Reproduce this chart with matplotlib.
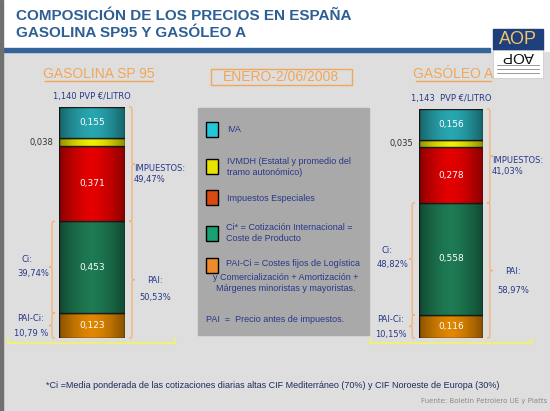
import numpy as np
import matplotlib.pyplot as plt
from matplotlib.patches import Rectangle, PathPatch
from matplotlib.path import Path
import matplotlib.transforms as mtransforms

# datos
productos = ["GASOLINA SP 95", "GASÓLEO A"]
pvp = [1.140, 1.143]
pvp_txt = ["1,140 PVP €/LITRO", "1,143  PVP €/LITRO"]
iva = [0.155, 0.156]
ivmdh = [0.038, 0.035]
especiales = [0.371, 0.278]
ci = [0.453, 0.558]
pai_ci = [0.123, 0.116]
impuestos_pct = ["49,47%", "41,03%"]
pai_pct = ["50,53%", "58,97%"]
ci_pct = ["39,74%", "48,82%"]
paici_pct = ["10,79 %", "10,15%"]

NAVY = "#27388a"
ORANGE = "#f2a65a"
BRACE = "#f4b27a"
SANS = ["Liberation Sans", "DejaVu Sans"]
NARROW = ["Liberation Sans Narrow", "Liberation Sans", "DejaVu Sans"]

fig = plt.figure(figsize=(5.5, 4.11), dpi=100)
bg = fig.add_axes([0, 0, 1, 1])
bg.set_xlim(0, 550)
bg.set_ylim(411, 0)
bg.axis("off")

# fondo
bg.add_patch(Rectangle((0, 0), 550, 52, color="white", zorder=0))
bg.add_patch(Rectangle((0, 52), 550, 359, color="#dedede", zorder=0))
bg.add_patch(Rectangle((0, 48), 490, 4, color="#34649a", zorder=1))
bg.add_patch(Rectangle((0, 0), 3, 411, color="#707070", zorder=1))

bg.text(16, 16, "COMPOSICIÓN DE LOS PRECIOS EN ESPAÑA", family=SANS, weight="bold",
        fontsize=11, color="#2e5f94", va="center")
bg.text(16, 33, "GASOLINA SP95 Y GASÓLEO A", family=SANS, weight="bold",
        fontsize=11, color="#2e5f94", va="center")

# logo
bg.add_patch(Rectangle((493, 29), 50, 21, color="#1d3f7c", zorder=2))
bg.add_patch(Rectangle((493, 50), 50, 28, facecolor="white", edgecolor="#c8c8c8", lw=0.5, zorder=2))
bg.text(518, 40, "AOP", family=SANS, fontsize=13, color="#f2c46a", ha="center", va="center", zorder=3)
bg.text(518, 56, "AOP", family=SANS, fontsize=11, color="#111111", ha="center", va="center",
        rotation=180, zorder=3)
for yy in (65, 69, 73):
    bg.plot([497, 539], [yy, yy], color="#8a8a8a", lw=0.6, zorder=3)

# cabeceras
for x, txt, w in [(99, productos[0], 108), (453, productos[1], 75)]:
    bg.text(x, 74, txt, family=NARROW, fontsize=10, color=ORANGE, ha="center", va="center")
    bg.plot([x - w / 2, x + w / 2], [81, 81], color=ORANGE, lw=1)
bg.add_patch(Rectangle((211, 69), 141, 16, fill=False, edgecolor=ORANGE, lw=1))
bg.text(281, 77, "ENERO-2/06/2008", family=NARROW, fontsize=10, color=ORANGE,
        ha="center", va="center")

# leyenda
bg.add_patch(Rectangle((198, 108), 171, 227, color="#a9a9a9", zorder=1))
leyenda = [
    ("#22c8d8", 129, 227, "IVA"),
    ("#e8e400", 167, 227, "IVMDH (Estatal y promedio del\ntramo autonómico)"),
    ("#d84a10", 198, 227, "Impuestos Especiales"),
    ("#17a070", 233, 226, "Ci* = Cotización Internacional =\nCoste de Producto"),
]
for col, yc, tx, txt in leyenda:
    bg.add_patch(Rectangle((206, yc - 7.5), 12, 15, facecolor=col, edgecolor="black", lw=1, zorder=2))
    bg.text(tx, yc, txt, family=SANS, fontsize=6.5, color=NAVY, va="center", linespacing=1.2, zorder=3)
bg.add_patch(Rectangle((206, 258), 12, 15, facecolor="#ee8a2a", edgecolor="black", lw=1, zorder=2))
bg.text(226, 263, "PAI-Ci = Costes fijos de Logística", family=SANS, fontsize=6.5, color=NAVY,
        va="center", zorder=3)
bg.text(286, 283, "y Comercialización + Amortización +\nMárgenes minoristas y mayoristas.",
        family=SANS, fontsize=6.5, color=NAVY, va="center", ha="center", linespacing=1.2, zorder=3)
bg.text(206, 319, "PAI  =  Precio antes de impuestos.", family=SANS, fontsize=6.5,
        color=NAVY, va="center", zorder=3)

# pie
bg.text(273, 385, "*Ci =Media ponderada de las cotizaciones diarias altas CIF Mediterráneo (70%) "
        "y CIF Noroeste de Europa (30%)", family=SANS, fontsize=6.5, color="#1c2a5c",
        ha="center", va="center")
bg.text(547, 401, "Fuente: Boletín Petrolero UE y Platts", family="DejaVu Sans", fontsize=5,
        color="#8a8a8a", va="center", ha="right")


def brace(ax, x, w, y0, y1, d=0.025):
    # llave: x, w en fracción de ejes; y0, y1 en datos
    tr = mtransforms.blended_transform_factory(ax.transAxes, ax.transData)
    ym = (y0 + y1) / 2
    xm = x + w / 2
    verts = [(x, y0), (xm, y0), (xm, y0), (xm, y0 + d),
             (xm, ym - d),
             (xm, ym), (xm, ym), (x + w, ym),
             (xm, ym), (xm, ym), (xm, ym + d),
             (xm, y1 - d),
             (xm, y1), (xm, y1), (x, y1)]
    codes = [Path.MOVETO, Path.CURVE4, Path.CURVE4, Path.CURVE4,
             Path.LINETO,
             Path.CURVE4, Path.CURVE4, Path.CURVE4,
             Path.CURVE4, Path.CURVE4, Path.CURVE4,
             Path.LINETO,
             Path.CURVE4, Path.CURVE4, Path.CURVE4]
    ax.add_patch(PathPatch(Path(verts, codes), transform=tr, fill=False,
                           edgecolor=BRACE, lw=1, clip_on=False))


def text_at(ax, xpix, y, txt, **kw):
    # x en píxeles relativos al borde izquierdo de la barra
    tr = mtransforms.offset_copy(mtransforms.blended_transform_factory(ax.transAxes, ax.transData),
                                 fig=fig, x=xpix * 0.72, y=0, units="points")
    ax.text(0, y, txt, transform=tr, clip_on=False, **kw)


colores = ["#e08600", "#1d7a52", "#e40000", "#eeee00", "#28a6b0"]
posiciones = [(59, 125, 107), (419, 483, 109)]
for i in range(2):
    x0, x1, top = posiciones[i]
    ax = fig.add_axes([x0 / 550, (411 - 338) / 411, (x1 - x0) / 550, (338 - top) / 411])
    ax.axis("off")
    capas = [pai_ci[i], ci[i], especiales[i], ivmdh[i], iva[i]]
    base = 0
    limites = []
    for v, c in zip(capas, colores):
        ax.bar(0, v, width=1, bottom=base, color=c, edgecolor="#202020", lw=1, zorder=1)
        limites.append((base, base + v))
        base += v
    # sombreado cilíndrico
    g = np.linspace(-1, 1, 60)
    shade = np.zeros((2, 60, 4))
    shade[..., 3] = 0.4 * np.abs(g) ** 1.6
    ax.imshow(shade, extent=(-0.5, 0.5, 0, pvp[i]), aspect="auto", zorder=2)
    ax.set_xlim(-0.5, 0.5)
    ax.set_ylim(0, pvp[i])

    for j in (0, 1, 2, 4):
        b, t = limites[j]
        ax.text(0, (b + t) / 2, f"{capas[j]:.3f}".replace(".", ","), color="white",
                fontsize=6.5, ha="center", va="center", zorder=3)
    b, t = limites[3]
    text_at(ax, -6, (b + t) / 2, f"{capas[3]:.3f}".replace(".", ","), color="#333333",
            fontsize=6, ha="right", va="center")
    ax.text(0.5, 1.045, pvp_txt[i], transform=ax.transAxes, color=NAVY, fontsize=6,
            ha="center", va="center", clip_on=False)

    w = 6 / (x1 - x0)
    imp0 = limites[1][1]
    brace(ax, 1.06, w, imp0, pvp[i])
    brace(ax, 1.06, w, 0, imp0)
    brace(ax, -0.06, -w, limites[0][1], imp0)
    brace(ax, -0.06, -w, 0, limites[0][1])

    text_at(ax, (x1 - x0) + 9, (imp0 + pvp[i]) / 2 - 0.05, "IMPUESTOS:\n" + impuestos_pct[i],
            color=NAVY, fontsize=6, va="center", linespacing=1.25)
    cx = (x1 - x0) + 30
    text_at(ax, cx, imp0 * 0.49, "PAI:", color=NAVY, fontsize=6, ha="center", va="center")
    text_at(ax, cx, imp0 * 0.35, pai_pct[i], color=NAVY, fontsize=6, ha="center", va="center")
    ym = (limites[1][0] + limites[1][1]) / 2
    text_at(ax, -32, ym + 0.04, "Ci:", color=NAVY, fontsize=6, ha="center", va="center")
    text_at(ax, -26, ym - 0.03, ci_pct[i], color=NAVY, fontsize=6, ha="center", va="center")
    text_at(ax, -28, limites[0][1] / 2 + 0.035, "PAI-Ci:", color=NAVY, fontsize=6, ha="center", va="center")
    text_at(ax, -28, limites[0][1] / 2 - 0.04, paici_pct[i], color=NAVY, fontsize=6, ha="center", va="center")

# líneas base amarillas
for xa, xb in [(8, 175), (370, 532)]:
    bg.plot([xa, xa, xb, xb], [339, 343, 343, 339], color="#f0f078", lw=1.5, zorder=1)

fig.savefig("out.png", dpi=100)
